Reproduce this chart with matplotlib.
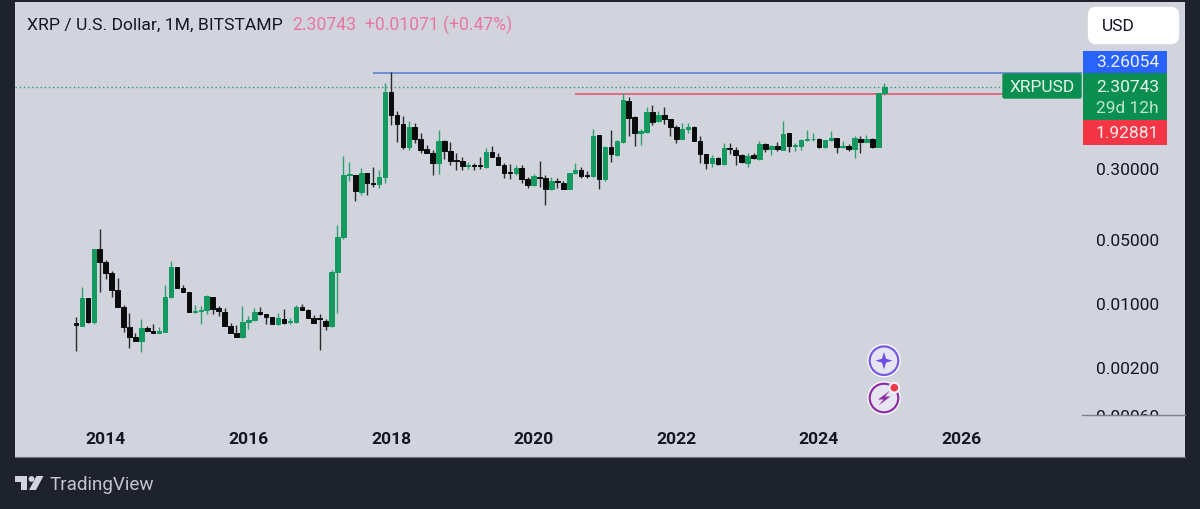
# XRP / USD monthly candles, TradingView look

import matplotlib
matplotlib.use('Agg')
import matplotlib.pyplot as plt
from matplotlib.patches import Rectangle, FancyBboxPatch, Circle, Polygon

plt.rcParams['font.family'] = ['Roboto', 'DejaVu Sans']

# one candle per month, first one is Aug 2013
opens = [.00600, .00566, .0113, .00615, .0389, .0278, .0211, .0138, .00898, .00543,
         .00421, .00387, .00533, .00490, .00470, .00486, .0115, .0248, .0146, .0133,
         .00792, .00826, .00847, .0115, .00875, .00805, .00557, .00470, .00426, .00615,
         .00647, .00805, .00752, .00698, .00585, .00675, .00620, .00615, .00907, .00840,
         .00686, .00692, .00637, .00566, .0220, .0521, .253, .253, .163, .263,
         .205, .200, .240, 2.023, 1.143, .904, .511, .845, .625, .478,
         .440, .336, .594, .454, .365, .356, .315, .322, .320, .309,
         .447, .398, .326, .267, .261, .301, .229, .194, .240, .232,
         .177, .215, .205, .177, .261, .284, .248, .243, .678, .225,
         .502, .417, .575, 1.626, 1.069, .714, .745, 1.212, .966, 1.133,
         1.025, .845, .620, .797, .838, .589, .428, .336, .385, .330,
         .490, .470, .417, .343, .411, .378, .546, .478, .519, .474,
         .714, .519, .519, .610, .615, .625, .502, .600, .640, .502,
         .514, .478, .625, .575, .625, .511, 1.955]
highs = [.00710, .0148, .0113, .0389, .0644, .0297, .0225, .0186, .00952, .00772,
         .00470, .00669, .00566, .00585, .00543, .0158, .0290, .0248, .0158, .0133,
         .00952, .00936, .0122, .0115, .00921, .00875, .00605, .00575, .00921, .00716,
         .00890, .00912, .00760, .00698, .00780, .00861, .00692, .00952, .00975, .00861,
         .00740, .00760, .00669, .0231, .0712, .408, .344, .253, .299, .263,
         .304, .284, 2.516, 3.35, 1.244, 1.115, .983, .919, .721, .533,
         .470, .777, .604, .575, .432, .391, .350, .343, .391, .494,
         .519, .432, .336, .330, .322, .320, .240, .257, .353, .248,
         .236, .232, .217, .263, .336, .309, .275, .802, .678, .524,
         .777, .604, 1.955, 1.798, 1.115, .797, 1.397, 1.447, 1.244, 1.375,
         1.025, .889, .933, .919, .859, .663, .428, .418, .391, .565,
         .555, .502, .425, .432, .432, .594, .555, .533, .570, .967,
         .714, .565, .625, .777, .714, .635, .610, .764, .640, .584,
         .546, .663, .663, .692, .635, 1.973, 2.56]
lows = [.00301, .00557, .00605, .00590, .0133, .0183, .0117, .00898, .00486, .00320,
        .00387, .00289, .00490, .00466, .00466, .00486, .0113, .0146, .0133, .00792,
        .00780, .00590, .00760, .00760, .00716, .00557, .00470, .00426, .00419, .00520,
        .00637, .00740, .00590, .00585, .00575, .00585, .00585, .00605, .00847, .00686,
        .00605, .00309, .00512, .00547, .00768, .0499, .217, .129, .150, .153,
        .186, .181, .203, .889, .579, .479, .470, .555, .440, .440,
        .253, .257, .378, .320, .284, .287, .292, .284, .289, .299,
        .391, .324, .232, .225, .253, .207, .180, .190, .186, .117,
        .172, .180, .177, .177, .257, .232, .232, .238, .174, .217,
        .344, .408, .565, .674, .524, .533, .727, .889, .958, .904,
        .664, .555, .615, .714, .584, .340, .292, .309, .325, .325,
        .425, .322, .343, .309, .374, .365, .447, .418, .462, .470,
        .447, .462, .470, .594, .594, .494, .494, .584, .432, .494,
        .462, .385, .440, .575, .494, .511, 1.892]
closes = [.00575, .0113, .00615, .0389, .0278, .0211, .0138, .00898, .00543, .00421,
          .00387, .00529, .00498, .00474, .00490, .0115, .0248, .0146, .0133, .00792,
          .00820, .00847, .0118, .00861, .00820, .00557, .00470, .00426, .00615, .00647,
          .00805, .00752, .00698, .00585, .00680, .00610, .00637, .00907, .00847, .00686,
          .00605, .00663, .00566, .0220, .0530, .253, .257, .166, .261, .203,
          .200, .240, 2.023, 1.143, .904, .511, .845, .625, .470, .440,
          .336, .594, .454, .359, .353, .312, .322, .317, .312, .443,
          .398, .324, .263, .261, .301, .229, .197, .244, .232, .177,
          .213, .208, .177, .263, .282, .246, .244, .673, .225, .502,
          .421, .584, 1.640, 1.051, .714, .752, 1.212, .958, 1.133, 1.016,
          .831, .620, .797, .831, .584, .428, .336, .385, .330, .494,
          .478, .417, .344, .408, .380, .546, .478, .524, .478, .703,
          .519, .533, .610, .625, .625, .502, .600, .640, .511, .514,
          .482, .640, .575, .615, .511, 1.973, 2.307]

year_ticks = [2014, 2016, 2018, 2020, 2022, 2024, 2026]
price_ticks = [0.3, 0.05, 0.01, 0.002, 0.0006]
price_labels = ['0.30000', '0.05000', '0.01000', '0.00200', '0.00060']

last_price = 2.30743
high_level = 3.26054
low_level = 1.92881

DARK = '#1e222d'
PANEL = '#d1d4dc'
GREEN = '#14995f'
BLACK = '#0b0b0b'
TEXT = '#131722'
PINK = '#e8779f'

W, H = 1200, 510


def box(left, top, right, bottom):
    # pixel box of the picture -> figure fractions
    return [left / W, 1 - bottom / H, (right - left) / W, (bottom - top) / H]


fig = plt.figure(figsize=(12, 5.1), dpi=100, facecolor=DARK)

# background panel
bg = fig.add_axes([0, 0, 1, 1], zorder=0)
bg.set_xlim(0, W)
bg.set_ylim(H, 0)
bg.axis('off')
bg.add_patch(Rectangle((15, 3), 1170, 455, facecolor=PANEL, edgecolor='none'))

# candles
ax = fig.add_axes(box(15, 3, 1082, 416), zorder=1)
ax.patch.set_alpha(0)
for s in ax.spines.values():
    s.set_visible(False)
ax.set_yscale('log')
ax.set_xlim(-10.26, 169.27)
ax.set_ylim(0.000597, 19.48)

xs = list(range(len(opens)))
colors = [GREEN if c >= o else BLACK for o, c in zip(opens, closes)]
wick_colors = ['#2f9f6f' if c >= o else '#2b2b30' for o, c in zip(opens, closes)]
ax.vlines(xs, lows, highs, colors=wick_colors, linewidth=1.0, zorder=2)
ax.bar(xs, [abs(c - o) for o, c in zip(opens, closes)],
       bottom=[min(o, c) for o, c in zip(opens, closes)],
       width=0.76, color=colors, edgecolor=colors, linewidth=0.7, zorder=3)

# levels drawn on the chart, Oct 2017 and Aug 2020 are where they start
ax.hlines(high_level, 50, 169.27, colors='#5f83d6', linewidth=1.2, zorder=1)
ax.hlines(low_level, 84, 169.27, colors='#e0596f', linewidth=1.2, zorder=1)
ax.axhline(last_price, color='#2f9b72', linewidth=1.0, linestyle=(0, (1, 2)), zorder=1)

# axes
ax.set_xticks([(y - 2013) * 12 + 1 - 8 for y in year_ticks])
ax.set_xticklabels([str(y) for y in year_ticks], fontsize=12.6, fontweight='bold', color=TEXT)
ax.tick_params(axis='x', length=0, pad=11.7)
ax.set_yticks(price_ticks)
ax.set_yticklabels(price_labels, fontsize=12.5, color=TEXT, ha='right')
ax.minorticks_off()
ax.tick_params(axis='y', which='both', left=False, right=False, labelleft=False,
               labelright=True, length=0, pad=55.4)

# everything on top: labels, buttons, icons
top = fig.add_axes([0, 0, 1, 1], zorder=2)
top.set_xlim(0, W)
top.set_ylim(H, 0)
top.axis('off')

# price scale bottom edge cuts the last label
top.add_patch(Rectangle((1082, 416), 103, 42, facecolor=PANEL, edgecolor='none'))
top.plot([1082, 1185], [416.3, 416.3], color='#7d818c', linewidth=1)
top.plot([15, 1185], [458, 458], color='#6c707a', linewidth=0.8)

# header
top.text(27, 25, 'XRP / U.S. Dollar, 1M, BITSTAMP', fontsize=12.6, color=TEXT, va='center')
top.text(292, 25, '2.30743', fontsize=12.7, color=PINK, va='center')
top.text(365, 25, '+0.01071 (+0.47%)', fontsize=12.7, color=PINK, va='center')

# USD button
top.add_patch(FancyBboxPatch((1092, 12), 83, 29, boxstyle='round,pad=0,rounding_size=4', mutation_aspect=1,
                             facecolor='white', edgecolor='white', linewidth=6))
top.text(1101.5, 26.5, 'USD', fontsize=12.5, color=TEXT, va='center')

# price tags
top.add_patch(Rectangle((1083, 52), 84, 22, facecolor='#2962ff', edgecolor='none'))
top.add_patch(Rectangle((1083, 74), 84, 47, facecolor='#0b8f50', edgecolor='none'))
top.add_patch(Rectangle((1083, 121), 84, 25, facecolor='#f23645', edgecolor='none'))
top.add_patch(FancyBboxPatch((1003, 75), 78, 24, boxstyle='round,pad=0,rounding_size=1.5',
                             facecolor='#0b8f50', edgecolor='#0b8f50', linewidth=1))
top.text(1159, 62.5, '3.26054', fontsize=12.5, color='#eef2ff', ha='right', va='center')
top.text(1159, 87, '2.30743', fontsize=12.5, color='#e8f5ee', ha='right', va='center')
top.text(1159, 108.5, '29d 12h', fontsize=12.5, color='#b9e6cc', ha='right', va='center')
top.text(1159, 133.5, '1.92881', fontsize=12.5, color='#fdeaec', ha='right', va='center')
top.text(1042, 87.5, 'XRPUSD', fontsize=12.5, color='#e8f5ee', ha='center', va='center')

# round icons
top.add_patch(Circle((884, 361.7), 16, facecolor='#eceaf6', edgecolor='white', linewidth=1))
top.add_patch(Circle((884, 361.7), 14.3, facecolor='#e6e5f2', edgecolor='#7a5be6', linewidth=1.6))
top.add_patch(Polygon([(884, 353), (886, 359.7), (892.5, 361.7), (886, 363.7), (884, 370.5),
                       (882, 363.7), (875.5, 361.7), (882, 359.7)], facecolor='#6d4fe8', edgecolor='none'))
top.add_patch(Circle((884, 399), 16, facecolor='#eceaf6', edgecolor='white', linewidth=1))
top.add_patch(Circle((884, 399), 14.3, facecolor='#e6e5f2', edgecolor='#8e2fa6', linewidth=1.6))
top.add_patch(Polygon([(890, 391.5), (878, 400.5), (883.5, 400.5), (878.5, 406.5), (890.5, 397.5),
                       (885, 397.5)], facecolor='#8e2fa6', edgecolor='none'))
top.add_patch(Circle((894.3, 388.7), 6, facecolor='#f1f0f7', edgecolor='none'))
top.add_patch(Circle((894.3, 388.7), 3.8, facecolor='#ee3a46', edgecolor='none'))

# TradingView logo
logo = '#d1d4dc'
top.add_patch(Polygon([(15, 477), (27, 477), (27, 491), (21, 491), (21, 482.5), (15, 482.5)],
                      facecolor=logo, edgecolor='none'))
top.add_patch(Circle((31.5, 480), 2.9, facecolor=logo, edgecolor='none'))
top.add_patch(Polygon([(36.5, 477), (43.5, 477), (36, 491), (29, 491)], facecolor=logo, edgecolor='none'))
top.text(50, 485, 'TradingView', fontsize=13.6, color='#c3c6ce', va='center')

fig.savefig('out.png', dpi=100, facecolor=DARK)
